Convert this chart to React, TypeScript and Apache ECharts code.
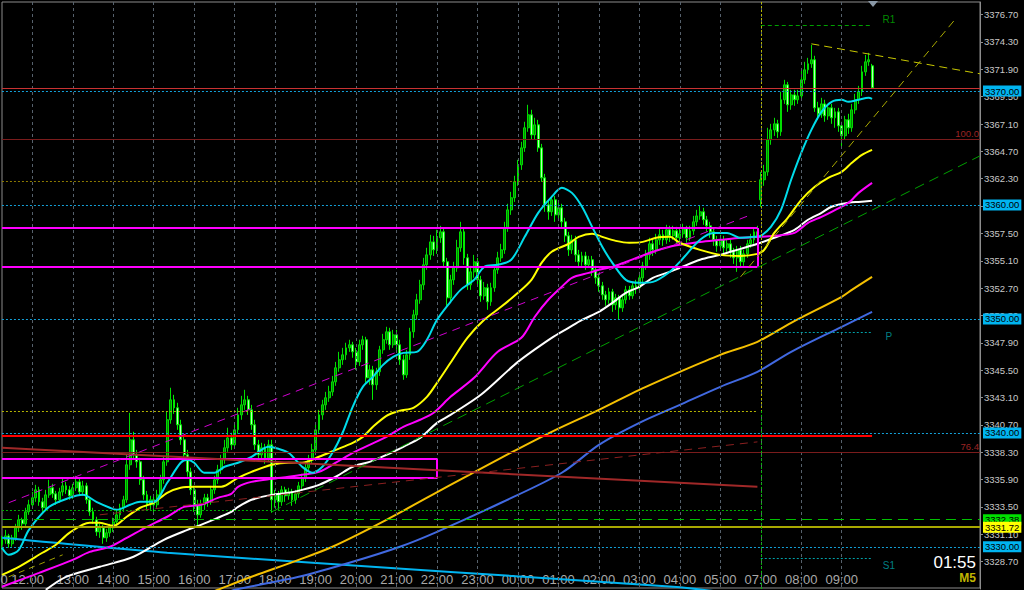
import React, { useEffect, useRef } from "react";
import * as echarts from "echarts";

const FONT = "'Liberation Sans', Arial, sans-serif";
const FONT_N = "'Liberation Sans Narrow', 'Liberation Sans', Arial, sans-serif";

// M5 candles [open, close, low, high]
const candles: number[][] = [
  // 11:15
  [3330.18,3330.62,3329.74,3330.96],[3330.62,3330.96,3330.27,3331.49],[3330.96,3330.27,3329.92,3331.14],[3330.27,3330.79,3330.01,3331.05],[3330.79,3331.67,3330.53,3332.02],[3331.67,3332.37,3331.31,3332.81],[3332.37,3332.02,3331.49,3332.55],[3332.02,3333.07,3331.84,3333.43],[3333.07,3333.69,3332.81,3334.13],
  // 12:00
  [3333.69,3334.30,3333.34,3334.82],[3334.30,3335.00,3333.95,3335.44],[3335.00,3333.95,3333.60,3335.27],[3333.95,3333.43,3333.07,3334.30],[3333.43,3334.56,3333.16,3335.00],[3334.56,3335.18,3334.30,3335.88],[3335.18,3334.65,3334.30,3335.53],[3334.65,3334.13,3333.69,3334.91],[3334.13,3334.82,3333.87,3335.18],[3334.82,3335.35,3334.48,3336.06],[3335.35,3335.00,3334.65,3335.70],[3335.00,3334.48,3334.13,3335.35],
  // 13:00
  [3334.48,3335.18,3334.21,3335.53],[3335.18,3335.70,3334.91,3336.23],[3335.70,3334.82,3334.56,3335.97],[3334.82,3335.35,3334.48,3335.79],[3335.35,3334.13,3333.78,3335.62],[3334.13,3333.07,3332.72,3334.39],[3333.07,3332.37,3332.02,3333.43],[3332.37,3331.31,3330.96,3332.64],[3331.31,3331.67,3330.79,3332.02],[3331.67,3330.79,3330.27,3331.93],[3330.79,3331.23,3330.44,3331.58],[3331.23,3331.67,3330.88,3332.02],
  // 14:00
  [3331.67,3332.19,3331.31,3332.55],[3332.19,3332.81,3331.84,3333.16],[3332.81,3333.43,3332.46,3333.78],[3333.43,3334.13,3333.07,3334.48],[3334.13,3337.20,3333.87,3338.07],[3337.20,3339.39,3336.76,3341.76],[3339.39,3338.07,3337.64,3340.09],[3338.07,3337.46,3336.94,3338.51],[3337.46,3335.88,3335.44,3337.81],[3335.88,3334.56,3334.13,3336.23],[3334.56,3333.69,3333.25,3334.91],[3333.69,3334.13,3333.25,3334.48],
  // 15:00
  [3334.13,3333.69,3333.07,3334.39],[3333.69,3334.56,3333.43,3335.00],[3334.56,3335.88,3334.30,3336.32],[3335.88,3337.46,3335.53,3337.98],[3337.46,3341.15,3337.11,3341.85],[3341.15,3342.90,3340.80,3343.96],[3342.90,3342.20,3341.67,3343.34],[3342.20,3340.71,3340.27,3342.64],[3340.71,3339.39,3338.95,3341.15],[3339.39,3338.07,3337.64,3339.74],[3338.07,3336.58,3336.15,3338.51],[3336.58,3335.00,3334.56,3336.94],
  // 16:00
  [3335.00,3333.69,3333.07,3335.35],[3333.69,3332.81,3331.75,3334.13],[3332.81,3333.69,3332.55,3334.13],[3333.69,3334.30,3333.25,3334.65],[3334.30,3333.95,3333.51,3334.65],[3333.95,3335.00,3333.69,3335.35],[3335.00,3335.88,3334.65,3336.23],[3335.88,3336.76,3335.53,3337.20],[3336.76,3337.64,3336.41,3338.07],[3337.64,3338.69,3337.29,3339.39],[3338.69,3339.56,3338.34,3340.45],[3339.56,3338.95,3338.51,3340.01],
  // 17:00
  [3338.95,3340.27,3338.69,3340.80],[3340.27,3341.58,3339.92,3342.20],[3341.58,3342.46,3341.15,3343.25],[3342.46,3342.90,3342.02,3343.78],[3342.90,3342.02,3341.58,3343.25],[3342.02,3340.71,3340.27,3342.46],[3340.71,3338.95,3338.51,3341.15],[3338.95,3338.07,3337.64,3339.39],[3338.07,3338.69,3337.64,3339.13],[3338.69,3337.81,3337.29,3339.04],[3337.81,3338.95,3337.46,3339.39],[3338.95,3334.13,3332.99,3339.39],
  // 18:00
  [3334.13,3334.56,3333.43,3335.00],[3334.56,3333.95,3333.25,3334.91],[3333.95,3335.00,3333.60,3335.35],[3335.00,3334.48,3333.95,3335.27],[3334.48,3334.82,3334.13,3335.18],[3334.82,3334.13,3333.60,3335.09],[3334.13,3334.65,3333.78,3335.00],[3334.65,3335.35,3334.30,3335.70],[3335.35,3336.06,3335.00,3336.41],[3336.06,3336.94,3335.70,3337.29],[3336.94,3337.64,3336.58,3338.07],[3337.64,3338.51,3337.29,3339.04],
  // 19:00
  [3338.51,3340.27,3338.16,3340.80],[3340.27,3341.58,3339.92,3342.02],[3341.58,3342.46,3341.15,3342.90],[3342.46,3343.08,3342.02,3343.60],[3343.08,3343.60,3342.72,3344.13],[3343.60,3344.48,3343.25,3345.00],[3344.48,3345.71,3344.13,3346.23],[3345.71,3346.41,3345.36,3347.11],[3346.41,3346.85,3345.97,3347.46],[3346.85,3347.46,3346.41,3347.91],[3347.46,3347.73,3347.11,3348.17],[3347.73,3347.11,3346.59,3347.99],
  // 20:00
  [3347.11,3346.23,3345.53,3347.46],[3346.23,3347.73,3345.88,3348.17],[3347.73,3348.17,3347.29,3348.52],[3348.17,3344.83,3344.39,3348.43],[3344.83,3345.53,3344.22,3345.97],[3345.53,3344.22,3342.90,3345.88],[3344.22,3345.36,3343.78,3345.71],[3345.36,3347.29,3345.00,3347.64],[3347.29,3348.17,3346.94,3348.69],[3348.17,3348.87,3347.82,3349.31],[3348.87,3347.73,3347.29,3349.22],[3347.73,3348.60,3347.46,3349.04],
  // 21:00
  [3348.60,3347.73,3347.29,3349.04],[3347.73,3346.41,3345.97,3348.17],[3346.41,3345.09,3344.66,3346.85],[3345.09,3346.85,3344.83,3347.29],[3346.85,3348.87,3346.41,3349.22],[3348.87,3350.36,3348.34,3350.80],[3350.36,3351.68,3349.92,3352.20],[3351.68,3352.99,3351.33,3353.43],[3352.99,3354.75,3352.55,3355.36],[3354.75,3355.62,3354.31,3356.24],[3355.62,3356.76,3355.19,3357.38],[3356.76,3356.06,3355.53,3357.29],
  // 22:00
  [3356.06,3357.12,3355.71,3357.82],[3357.12,3357.64,3356.68,3358.17],[3357.64,3355.01,3354.48,3357.99],[3355.01,3351.85,3351.15,3355.36],[3351.85,3353.43,3351.50,3353.87],[3353.43,3354.48,3352.99,3355.01],[3354.48,3356.24,3354.13,3356.94],[3356.24,3357.64,3355.89,3358.52],[3357.64,3355.36,3354.75,3357.99],[3355.36,3352.99,3352.55,3355.71],[3352.99,3354.13,3352.55,3354.66],[3354.13,3355.01,3353.61,3355.62],
  // 23:00
  [3355.01,3353.43,3352.99,3355.36],[3353.43,3352.02,3351.50,3353.78],[3352.02,3352.73,3351.68,3353.25],[3352.73,3351.50,3350.80,3353.08],[3351.50,3352.73,3351.15,3353.17],[3352.73,3354.31,3352.38,3354.75],[3354.31,3355.36,3353.96,3355.89],[3355.36,3356.06,3355.01,3356.59],[3356.06,3357.99,3355.71,3358.52],[3357.99,3359.57,3357.64,3360.10],[3359.57,3360.63,3359.13,3361.15],[3360.63,3362.03,3360.27,3362.56],
  // 00:00
  [3362.03,3363.52,3361.68,3363.96],[3363.52,3365.01,3363.08,3365.54],[3365.01,3366.77,3364.66,3367.30],[3366.77,3367.91,3366.42,3368.79],[3367.91,3366.15,3365.72,3368.35],[3366.15,3367.03,3365.72,3367.65],[3367.03,3365.01,3364.66,3367.47],[3365.01,3362.38,3362.03,3365.36],[3362.38,3360.01,3359.40,3362.73],[3360.01,3359.40,3358.70,3360.45],[3359.40,3360.45,3359.04,3360.80],[3360.45,3359.13,3358.52,3360.80],
  // 01:00
  [3359.13,3359.75,3358.70,3360.19],[3359.75,3358.52,3357.99,3360.10],[3358.52,3357.29,3356.76,3358.87],[3357.29,3356.06,3355.53,3357.64],[3356.06,3356.94,3355.71,3357.38],[3356.94,3355.62,3355.01,3357.29],[3355.62,3355.01,3354.48,3356.06],[3355.01,3355.53,3354.66,3355.89],[3355.53,3354.75,3354.31,3355.89],[3354.75,3355.19,3354.48,3355.53],[3355.19,3354.31,3353.78,3355.53],[3354.31,3353.61,3353.08,3354.66],
  // 02:00
  [3353.61,3352.90,3352.38,3353.96],[3352.90,3352.11,3351.68,3353.25],[3352.11,3351.68,3351.15,3352.46],[3351.68,3352.38,3351.33,3352.73],[3352.38,3351.24,3350.62,3352.64],[3351.24,3351.85,3350.80,3352.20],[3351.85,3350.97,3349.92,3352.11],[3350.97,3351.68,3350.62,3352.03],[3351.68,3352.55,3351.33,3352.90],[3352.55,3352.03,3351.68,3352.90],[3352.03,3352.90,3351.76,3353.25],[3352.90,3352.73,3352.20,3353.43],
  // 03:00
  [3352.73,3353.61,3352.38,3354.13],[3353.61,3354.66,3353.25,3355.01],[3354.66,3355.62,3354.31,3356.06],[3355.62,3356.59,3355.19,3357.12],[3356.59,3356.06,3355.53,3356.94],[3356.06,3356.94,3355.71,3357.47],[3356.94,3357.38,3356.50,3357.99],[3357.38,3356.94,3356.41,3357.82],[3356.94,3357.82,3356.59,3358.26],[3357.82,3357.29,3356.76,3358.17],[3357.29,3357.73,3356.94,3358.17],[3357.73,3357.12,3356.59,3358.08],
  // 04:00
  [3357.12,3357.47,3356.76,3357.91],[3357.47,3357.91,3357.12,3358.35],[3357.91,3357.12,3356.68,3358.17],[3357.12,3357.73,3356.85,3358.17],[3357.73,3358.52,3357.38,3359.04],[3358.52,3359.04,3358.17,3359.57],[3359.04,3359.40,3358.70,3359.92],[3359.40,3358.70,3358.26,3359.75],[3358.70,3358.17,3357.64,3359.04],[3358.17,3357.64,3357.12,3358.52],[3357.64,3356.94,3356.41,3357.99],[3356.94,3356.41,3355.89,3357.29],
  // 05:00
  [3356.41,3356.94,3356.06,3357.38],[3356.94,3356.24,3355.71,3357.29],[3356.24,3356.59,3355.89,3356.94],[3356.59,3355.89,3355.36,3356.94],[3355.89,3355.36,3354.83,3356.24],[3355.36,3356.06,3354.13,3356.41],[3356.06,3355.01,3354.48,3356.41],[3355.01,3355.71,3354.66,3356.06],[3355.71,3356.59,3355.36,3356.94],[3356.59,3356.94,3356.24,3357.47],[3356.94,3357.64,3356.59,3357.99],[3357.64,3357.12,3355.53,3358.17],
  // 07:00
  [3360.45,3362.21,3359.84,3362.90],[3362.21,3362.90,3361.68,3363.52],[3362.90,3365.72,3362.56,3366.77],[3365.72,3366.59,3365.28,3367.12],[3366.59,3367.12,3366.06,3367.65],[3367.12,3366.42,3365.89,3367.47],[3366.42,3369.23,3366.06,3369.93],[3369.23,3370.54,3368.87,3370.98],[3370.54,3368.79,3368.17,3370.80],[3368.79,3369.66,3368.35,3370.10],[3369.66,3369.23,3368.70,3370.10],[3369.23,3369.57,3368.87,3370.10],
  // 08:00
  [3369.57,3370.98,3369.23,3371.86],[3370.98,3371.86,3370.63,3372.56],[3371.86,3372.39,3371.51,3372.91],[3372.39,3372.74,3372.03,3374.05],[3372.74,3368.52,3368.17,3373.09],[3368.52,3368.00,3367.47,3369.05],[3368.00,3368.87,3367.65,3369.40],[3368.87,3367.82,3367.30,3369.23],[3367.82,3368.52,3367.47,3368.87],[3368.52,3367.65,3367.12,3368.87],[3367.65,3368.17,3366.77,3368.52],[3368.17,3366.94,3366.42,3368.52],
  // 09:00
  [3366.94,3366.07,3365.10,3367.30],[3366.07,3367.47,3365.72,3367.82],[3367.47,3366.77,3366.24,3368.00],[3366.77,3368.35,3366.42,3368.87],[3368.35,3369.23,3368.00,3369.75],[3369.23,3369.93,3368.87,3370.45],[3369.93,3371.68,3369.57,3372.21],[3371.68,3372.56,3371.33,3373.17],[3372.56,3372.74,3372.21,3373.35],[3372.21,3370.28,3370.19,3372.38],
];

// moving averages: [bar index, price]
const maCyan = [[0,3329.92],[2,3329.30],[5,3329.74],[8,3331.49],[14,3333.51],[20,3334.30],[24,3334.56],[28,3333.95],[32,3333.43],[34,3333.25],[38,3333.69],[41,3333.95],[45,3333.95],[49,3335.62],[53,3337.38],[55,3337.64],[57,3337.38],[60,3336.50],[63,3336.50],[66,3337.03],[70,3337.38],[74,3337.90],[79,3338.78],[82,3338.60],[85,3338.25],[89,3337.03],[92,3336.50],[95,3337.03],[98,3338.25],[101,3340.01],[104,3342.29],[107,3344.04],[110,3344.92],[113,3345.97],[116,3346.67],[119,3347.02],[123,3347.11],[126,3348.17],[129,3349.92],[133,3351.50],[136,3352.55],[140,3353.43],[143,3354.57],[147,3354.75],[151,3355.19],[155,3357.20],[159,3359.31],[163,3360.71],[166,3361.50],[169,3361.06],[172,3359.84],[175,3358.08],[178,3356.33],[181,3354.92],[185,3353.43],[189,3353.17],[193,3353.25],[198,3354.13],[201,3355.01],[207,3356.94],[211,3357.55],[215,3357.55],[219,3357.12],[223,3357.20],[225,3357.29],[228,3358.08],[231,3359.57],[234,3362.21],[237,3364.57],[240,3366.59],[243,3368.17],[246,3369.05],[249,3369.23],[251,3369.05],[254,3369.23],[257,3369.40],[258,3369.31]];
const maYellow = [[0,3327.54],[5,3328.25],[12,3329.48],[16,3330.18],[20,3331.23],[26,3332.11],[29,3332.11],[33,3331.84],[37,3332.64],[41,3333.43],[45,3333.87],[49,3334.74],[53,3335.18],[57,3335.27],[62,3335.27],[65,3335.27],[70,3336.06],[74,3336.58],[80,3337.20],[85,3337.38],[89,3337.38],[94,3337.90],[99,3338.51],[104,3339.13],[107,3339.65],[110,3340.53],[114,3341.50],[118,3341.94],[122,3342.20],[126,3343.16],[129,3344.39],[133,3346.15],[138,3348.34],[143,3349.92],[148,3351.06],[153,3352.29],[157,3353.43],[160,3354.92],[163,3355.89],[168,3356.59],[171,3357.20],[175,3357.47],[178,3357.20],[182,3356.85],[186,3356.68],[190,3356.76],[194,3357.12],[198,3357.20],[201,3356.68],[207,3356.06],[213,3355.62],[219,3355.53],[224,3355.71],[226,3356.06],[229,3357.55],[233,3358.87],[237,3360.45],[241,3361.59],[245,3362.38],[249,3362.91],[252,3363.70],[255,3364.40],[258,3364.84]];
const maMagenta = [[0,3326.50],[11,3327.72],[21,3328.86],[26,3329.56],[32,3330.01],[37,3330.79],[43,3331.75],[49,3332.64],[54,3333.51],[59,3333.69],[64,3334.30],[68,3334.65],[70,3335.27],[74,3335.70],[80,3335.97],[85,3336.15],[89,3336.32],[94,3336.58],[99,3337.38],[104,3338.25],[109,3338.95],[114,3339.65],[119,3340.53],[124,3341.15],[128,3341.76],[133,3343.16],[140,3344.83],[147,3347.11],[154,3348.34],[158,3350.19],[162,3351.68],[166,3352.82],[169,3353.61],[174,3354.04],[177,3354.31],[181,3354.57],[185,3355.01],[189,3355.45],[193,3355.89],[198,3356.33],[201,3356.50],[207,3356.76],[213,3356.94],[219,3357.12],[224,3357.20],[229,3357.29],[235,3357.55],[239,3358.43],[243,3358.96],[246,3359.40],[251,3360.19],[254,3361.06],[258,3361.94]];
const maWhite = [[13,3326.23],[19,3327.37],[29,3328.25],[39,3329.13],[48,3330.62],[55,3331.49],[59,3331.93],[64,3332.55],[68,3333.07],[70,3333.51],[74,3334.13],[80,3334.56],[85,3334.74],[89,3335.00],[94,3335.44],[99,3336.15],[104,3337.03],[109,3337.46],[114,3338.07],[119,3338.78],[124,3339.56],[129,3340.88],[133,3341.58],[142,3343.34],[153,3346.23],[163,3348.34],[168,3349.22],[172,3349.92],[177,3350.62],[181,3351.41],[185,3352.29],[189,3352.82],[193,3353.61],[198,3354.13],[201,3354.48],[207,3355.19],[213,3355.62],[219,3356.15],[224,3356.59],[229,3357.12],[235,3357.82],[239,3358.70],[243,3359.31],[246,3359.84],[251,3360.19],[254,3360.27],[258,3360.36]];
const maGold = [[62,3326.00],[64,3326.23],[74,3327.37],[88,3328.86],[98,3330.01],[114,3332.37],[133,3335.44],[148,3337.81],[163,3340.09],[177,3342.02],[189,3343.78],[201,3345.36],[213,3346.85],[224,3347.99],[234,3349.66],[249,3351.94],[252,3352.55],[258,3353.69]];
const maBlue = [[67,3326.00],[69,3326.23],[88,3327.37],[103,3328.60],[118,3330.01],[129,3331.32],[148,3333.87],[166,3336.50],[177,3338.95],[189,3340.88],[201,3342.46],[213,3344.04],[224,3345.36],[234,3347.11],[249,3349.31],[258,3350.62]];
const maSky = [[0,3330.79],[49,3329.48],[133,3327.80],[199,3326.49],[213,3326.05]];

// horizontal price levels
const roundLevels = [3370, 3360, 3350, 3340, 3330];
const fibValues = [3365.78, 3338.27];
const fibTexts = ["100.0", "76.4"];
const greenLevel = 3332.38;
const yellowLevel = 3331.72;
const prevDayLevels = [3362.06, 3341.93, 3333.25];
const pivotValues = [3375.81, 3348.87, 3328.98];
const pivotTexts = ["R1", "P", "S1"];
const pivotTextValues = [3376.25, 3348.43, 3328.33];
// rectangles: [start bar, end bar, top price, bottom price]
const rectBars = [[0, 224], [0, 129]];
const rectPrices = [[3357.97, 3354.60], [3337.70, 3336.03]];

const Y_MIN = 3326.3;
const Y_MAX = 3377.81;

function buildCategories() {
  const pad = (n: number) => String(n).padStart(2, "0");
  const c: string[] = [];
  for (let m = 11 * 60 + 15; m < 24 * 60; m += 5) c.push("10 " + pad(Math.floor(m / 60)) + ":" + pad(m % 60));
  for (let m = 0; m < 6 * 60; m += 5) c.push("11 " + pad(Math.floor(m / 60)) + ":" + pad(m % 60));
  for (let m = 7 * 60; c.length < 291; m += 5) c.push("11 " + pad(Math.floor(m / 60)) + ":" + pad(m % 60));
  return c;
}
const categories = buildCategories();
const isHour = (i: number) => i <= 249 && categories[i].endsWith(":00");

export default function App() {
  const ref = useRef<HTMLDivElement>(null);
  useEffect(() => {
    if (!ref.current) return;
    const chart = echarts.init(ref.current, null, { renderer: "svg" });
    const last = candles[candles.length - 1][1];
    const seg = (i0: number, v0: number, i1: number, v1: number, color: string, type: any, width: number) => {
      const ls = { color, type, width };
      return [
        { coord: [i0, v0], lineStyle: ls, label: { show: false } },
        { coord: [i1, v1], lineStyle: ls, label: { show: false } },
      ];
    };
    const box = (text: string, bg: string) => ({
      show: true, position: "end", formatter: text, backgroundColor: bg, color: "#000",
      fontSize: 9.5, fontFamily: FONT_N, padding: [1, 2, 0, 2], distance: 3,
    });
    const hourLines = categories
      .map((_, i) => i)
      .filter((i) => isHour(i))
      .map((i) => seg(i, Y_MAX, i, Y_MIN, "#56616c", [3, 3], 1));
    const rectLines: any[] = [];
    rectBars.forEach(([a, b], k) => {
      const [top, bot] = rectPrices[k];
      rectLines.push(seg(a, top, b, top, "#ff00ff", "solid", 2));
      rectLines.push(seg(a, bot, b, bot, "#ff00ff", "solid", 2));
      rectLines.push(seg(b, top, b, bot, "#ff00ff", "solid", 2));
    });
    const markData: any[] = [
      ...hourLines,
      seg(0, prevDayLevels[0], 224, prevDayLevels[0], "#8c7a00", [2, 2], 1),
      seg(0, prevDayLevels[1], 224, prevDayLevels[1], "#b4b400", [2, 2], 1),
      seg(0, prevDayLevels[2], 224, prevDayLevels[2], "#00b000", [2, 2], 1),
      ...fibValues.map((v, k) => ({
        yAxis: v, lineStyle: { color: "#7a1c1c", type: "solid", width: 1 },
        label: { show: true, position: "insideEndTop", formatter: fibTexts[k], color: "#9a2424", fontSize: 9.5, fontFamily: FONT_N, distance: 1 },
      })),
      { yAxis: greenLevel, lineStyle: { color: "#00c000", type: [10, 6], width: 1 }, label: box("3332.38", "#00e000") },
      { yAxis: yellowLevel, lineStyle: { color: "#a8a800", type: "solid", width: 2 }, label: box("3331.72", "#ffff00") },
      { yAxis: last, lineStyle: { color: "#c83232", type: "solid", width: 1 }, label: { show: false } },
      ...roundLevels.map((v) => ({ yAxis: v, lineStyle: { color: "#14a0d8", type: [2, 2], width: 1 }, label: box(v.toFixed(2), "#00b4f0") })),
      ...rectLines,
      seg(0, 3339.74, 258, 3339.74, "#ff0000", "solid", 2),
      seg(0, 3338.69, 224, 3335.27, "#a02828", "solid", 2),
      seg(2, 3333.87, 222, 3359.13, "#d000d0", [8, 6], 1),
      seg(29, 3332.81, 224, 3339.21, "#8b2020", [8, 6], 1),
      seg(80, 3333.07, 290, 3364.31, "#00a000", [10, 6], 1),
      seg(219, 3353.69, 283, 3376.42, "#a8a800", [8, 5], 1),
      seg(240, 3374.14, 290, 3371.51, "#c8c800", [8, 5], 1),
      seg(2, 3327.37, 18, 3329.30, "#a0a000", [6, 5], 1),
      seg(225, pivotValues[0], 258, pivotValues[0], "#00a000", [4, 3], 1),
      seg(225, pivotValues[1], 258, pivotValues[1], "#00a0a8", [2, 2], 1),
      seg(225, pivotValues[2], 258, pivotValues[2], "#00a0a8", [2, 2], 1),
      seg(225, Y_MAX, 225, prevDayLevels[1], "#b4b400", [2, 2], 1),
      seg(225, prevDayLevels[1], 225, Y_MIN, "#00c000", [2, 2], 1),
    ];
    const ma = (data: number[][], color: string) => ({
      type: "line", data, smooth: 0.3, showSymbol: false, symbol: "none", z: 3, silent: true,
      lineStyle: { color, width: 2 }, itemStyle: { color },
    });
    chart.setOption({
      animation: false,
      backgroundColor: "#000",
      grid: { left: 1.95, right: 44, top: 2, bottom: 1, containLabel: false, outerBoundsMode: "none" },
      xAxis: {
        type: "category", data: categories, boundaryGap: false,
        axisLine: { show: false }, axisTick: { show: false },
        axisLabel: {
          inside: true, margin: 3, color: "#a8a8a8", fontSize: 13, fontFamily: FONT,
          interval: (i: number) => i === 6 || (i !== 9 && isHour(i)),
          formatter: (v: string, i: number) => (i === 6 ? "0 12:00" : v.slice(3)),
        },
        splitLine: { show: false },
      },
      yAxis: {
        type: "value", position: "right", min: Y_MIN, max: Y_MAX, interval: 2.4,
        axisLine: { show: true, lineStyle: { color: "#8c8c8c" } },
        axisTick: { show: true, length: 3, lineStyle: { color: "#8c8c8c" } },
        axisLabel: { color: "#c8c8c8", fontSize: 9.5, fontFamily: FONT_N, margin: 4, showMinLabel: false, showMaxLabel: false, formatter: (v: number) => v.toFixed(2) },
        splitLine: { show: false },
      },
      series: [
        {
          type: "line", data: [], z: 1, silent: true,
          markLine: { symbol: ["none", "none"], silent: true, animation: false, label: { show: false }, data: markData },
        },
        {
          type: "candlestick", data: candles, z: 2, barWidth: 2.4, silent: true,
          itemStyle: { color: "#008a00", color0: "#b8ffb8", borderColor: "#00dd00", borderColor0: "#00ee00", borderWidth: 1 },
        },
        ma(maSky, "#00b4f0"),
        ma(maBlue, "#4169e1"),
        ma(maGold, "#f5c000"),
        ma(maWhite, "#ffffff"),
        ma(maMagenta, "#ff00ff"),
        ma(maYellow, "#ffff00"),
        ma(maCyan, "#00dcea"),
        {
          type: "scatter", z: 5, silent: true, symbolSize: 1, itemStyle: { color: "rgba(0,0,0,0)" },
          label: { show: true, position: "inside", fontSize: 10, fontFamily: FONT },
          data: pivotTexts.map((t, k) => ({
            value: [263, pivotTextValues[k]],
            label: { formatter: t, color: k === 0 ? "#00b000" : "#00a0a8" },
          })),
        },
      ],
      graphic: [
        { type: "rect", silent: true, z: -10, shape: { x: 2, y: 2, width: 978, height: 586 }, style: { fill: "none", stroke: "#8c8c8c", lineWidth: 1 } },
        { type: "polygon", silent: true, z: 100, shape: { points: [[868, 1], [878, 1], [873, 7]] }, style: { fill: "#8a98a6" } },
        { type: "text", silent: true, z: 100, x: 976, y: 562, style: { text: "01:55", fill: "#ffffff", font: "17px " + FONT, align: "right", verticalAlign: "middle" } },
        { type: "text", silent: true, z: 100, x: 976, y: 578, style: { text: "M5", fill: "#c0b400", font: "bold 12px " + FONT, align: "right", verticalAlign: "middle" } },
      ],
    });
    return () => chart.dispose();
  }, []);
  return <div ref={ref} style={{ position: "fixed", left: 0, top: 0, width: 1024, height: 590, background: "#000" }} />;
}
